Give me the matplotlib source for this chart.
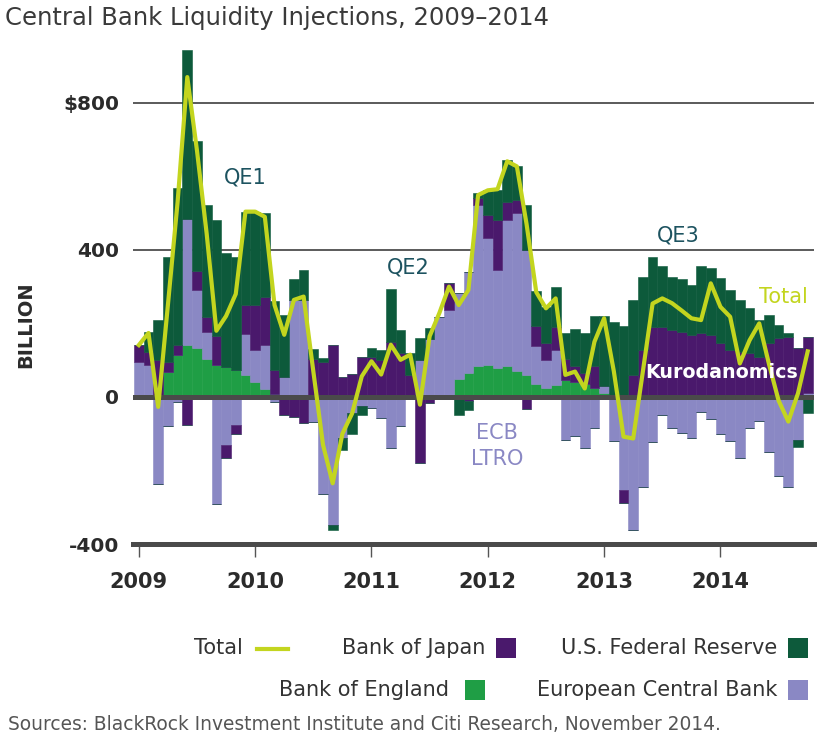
import numpy as np
import matplotlib
matplotlib.use("Agg")
import matplotlib.pyplot as plt
from matplotlib.patches import Rectangle
from matplotlib.lines import Line2D

plt.rcParams['font.family'] = ['DejaVu Sans']

# ---------------- data (monthly, Jan 2009 - Oct 2014, $ billion) ----------------
years = ['2009', '2010', '2011', '2012', '2013', '2014']

boe = [0, 0, 0, 68, 115, 142, 132, 104, 88, 82, 73, 59,
       41, 22, 9, 0, 0, 0, 0, 0, 0, 0, 0, 0,
       0, 0, 0, 0, 0, 0, 0, 0, 0, 50, 65, 83,
       88, 79, 85, 70, 61, 35, 24, 33, 45, 40, 35, 24,
       10, 0, 0, 0, 0, 0, 0, 0, 0, 0, 0, 0,
       0, 0, 0, 0, 0, 0, 0, 0, -8, -5]

ecb = [95, 88, -236, -80, -14, 341, 160, 73, -290, -131, -77, 113,
       86, 118, -14, 54, 263, 263, -68, -263, -349, -113, -45, -25,
       -30, -57, -138, -80, 0, 100, 157, 218, 237, 232, 276, 440,
       343, 267, 396, 429, 339, 104, 77, 95, -116, -107, -138, -84,
       20, -120, -253, -362, -244, -122, -49, -85, -99, -112, -40, -60,
       -100, -120, -165, -85, -65, -150, -215, -245, -110, 10]

boj = [45, 35, 100, 27, 27, -75, 50, 40, 78, -36, -23, 77,
       122, 131, 63, -50, -54, -71, 104, 95, 141, 54, 63, 110,
       110, 101, 150, 119, 60, -179, -16, 0, 73, 0, -10, 18,
       63, 136, 50, 36, -34, 54, 45, 63, 59, 45, 30, 59,
       0, 0, -36, 60, 128, 191, 191, 182, 178, 169, 173, 169,
       146, 128, 123, 119, 110, 146, 160, 164, 132, 154]

fed = [0, 55, 110, 286, 425, 461, 354, 306, 315, 310, 308, 255,
       255, 228, 190, 168, 59, 83, 27, 10, -14, -32, -55, -25,
       23, 27, 143, 63, 60, 60, 30, 0, 0, -49, -25, 13,
       68, 80, 114, 92, 122, 94, 100, 108, 70, 99, 109, 137,
       189, 205, 192, 204, 199, 191, 164, 145, 142, 136, 182, 181,
       177, 163, 141, 122, 100, 77, 36, 9, -18, -40]

total = [141, 174, -27, 250, 530, 870, 670, 444, 180, 220, 280, 504,
         504, 490, 250, 169, 264, 273, 70, -130, -235, -100, -45, 56,
         97, 61, 142, 101, 115, -21, 165, 228, 300, 250, 291, 549,
         562, 565, 641, 627, 470, 285, 241, 268, 60, 69, 23, 150,
         214, 70, -108, -113, 70, 254, 268, 255, 235, 214, 209, 309,
         245, 218, 91, 154, 200, 90, -10, -67, 10, 124]

y_ticks = [-400, 0, 400, 800]
y_labels = ['-400', '0', '400', '$800']

# ---------------- colours ----------------
C_BOE = '#1f9e45'
C_ECB = '#8a88c4'
C_BOJ = '#4a196c'
C_FED = '#0d5a3b'
C_TOT = '#c3d51f'
C_QE = '#1d5360'
DARK = '#2b2b2b'

W, H = 830, 746
fig = plt.figure(figsize=(W / 100, H / 100), dpi=100)

def fx(x):
    return x / W

def fy(y):
    return 1 - y / H

ax_l, ax_r, ax_t, ax_b = 133, 814, 44, 544
ax = fig.add_axes([fx(ax_l), fy(ax_b), (ax_r - ax_l) / W, (ax_b - ax_t) / H])

n = len(total)
x = np.arange(n)
series = [(boe, C_BOE), (ecb, C_ECB), (boj, C_BOJ), (fed, C_FED)]
pos_b = np.zeros(n)
neg_b = np.zeros(n)
for vals, col in series:
    v = np.array(vals, dtype=float)
    p = np.where(v > 0, v, 0)
    q = np.where(v < 0, v, 0)
    ax.bar(x, p, bottom=pos_b, width=1.0, color=col, edgecolor=col, linewidth=0.4, zorder=2)
    ax.bar(x, q, bottom=neg_b, width=1.0, color=col, edgecolor=col, linewidth=0.4, zorder=2)
    pos_b += p
    neg_b += q

for gy in [400, 800]:
    ax.axhline(gy, color='#5a5a5a', lw=1.4, zorder=1)
ax.axhline(0, color='#4a4a4a', lw=3.6, zorder=3)

ax.plot(x, total, color=C_TOT, lw=3.0, zorder=4, solid_joinstyle='round')

ax.set_xlim(-0.6, n - 0.35)
ax.set_ylim(-400, 960)

for s in ['top', 'right', 'left']:
    ax.spines[s].set_visible(False)
ax.spines['bottom'].set_color('#4a4a4a')
ax.spines['bottom'].set_linewidth(3.6)

ax.set_yticks(y_ticks)
ax.set_yticklabels(y_labels)
ax.tick_params(axis='y', length=0, pad=10, labelsize=14.5, labelcolor=DARK)
ax.set_xticks(np.arange(0, n, 12))
ax.set_xticklabels(years)
ax.tick_params(axis='x', direction='out', length=9, width=1.0, color='#555555',
               pad=11, labelsize=15, labelcolor=DARK)
for lab in ax.get_yticklabels() + ax.get_xticklabels():
    lab.set_fontweight('bold')

# axis title
fig.text(fx(26), fy(325), 'BILLION', rotation=90, ha='center', va='center',
         fontsize=14, fontweight='bold', color=DARK)

# title
fig.text(fx(5), fy(18), 'Central Bank Liquidity Injections, 2009\u20132014',
         ha='left', va='center', fontsize=17.5, color='#3a3a3a')

# annotations
fig.text(fx(245), fy(178), 'QE1', ha='center', va='center', fontsize=15, color=C_QE)
fig.text(fx(408), fy(268), 'QE2', ha='center', va='center', fontsize=15, color=C_QE)
fig.text(fx(678), fy(236), 'QE3', ha='center', va='center', fontsize=15, color=C_QE)
fig.text(fx(783), fy(297), 'Total', ha='center', va='center', fontsize=15, color=C_TOT)
fig.text(fx(722), fy(373), 'Kurodanomics', ha='center', va='center', fontsize=13.7,
         color='white', fontweight='bold')
fig.text(fx(497), fy(446), 'ECB\nLTRO', ha='center', va='center', fontsize=15,
         color=C_ECB, linespacing=1.35)

# legend
def legend_text(xr, y, s):
    fig.text(fx(xr), fy(y), s, ha='right', va='center', fontsize=15, color='#333333')

def legend_box(xl, y, col):
    fig.add_artist(Rectangle((fx(xl), fy(y + 10)), 20 / W, 20 / H, transform=fig.transFigure,
                             facecolor=col, edgecolor='none'))

legend_text(243, 648, 'Total')
fig.add_artist(Line2D([fx(257), fx(288)], [fy(649), fy(649)], transform=fig.transFigure,
                      color=C_TOT, lw=3.0))
legend_text(485, 648, 'Bank of Japan')
legend_box(496, 648, C_BOJ)
legend_text(777, 648, 'U.S. Federal Reserve')
legend_box(788, 648, C_FED)
legend_text(449, 690, 'Bank of England')
legend_box(465, 690, C_BOE)
legend_text(777, 690, 'European Central Bank')
legend_box(788, 690, C_ECB)

fig.text(fx(8), fy(724), 'Sources: BlackRock Investment Institute and Citi Research, November 2014.',
         ha='left', va='center', fontsize=13.4, color='#555555')

fig.savefig('out.png', dpi=100)
